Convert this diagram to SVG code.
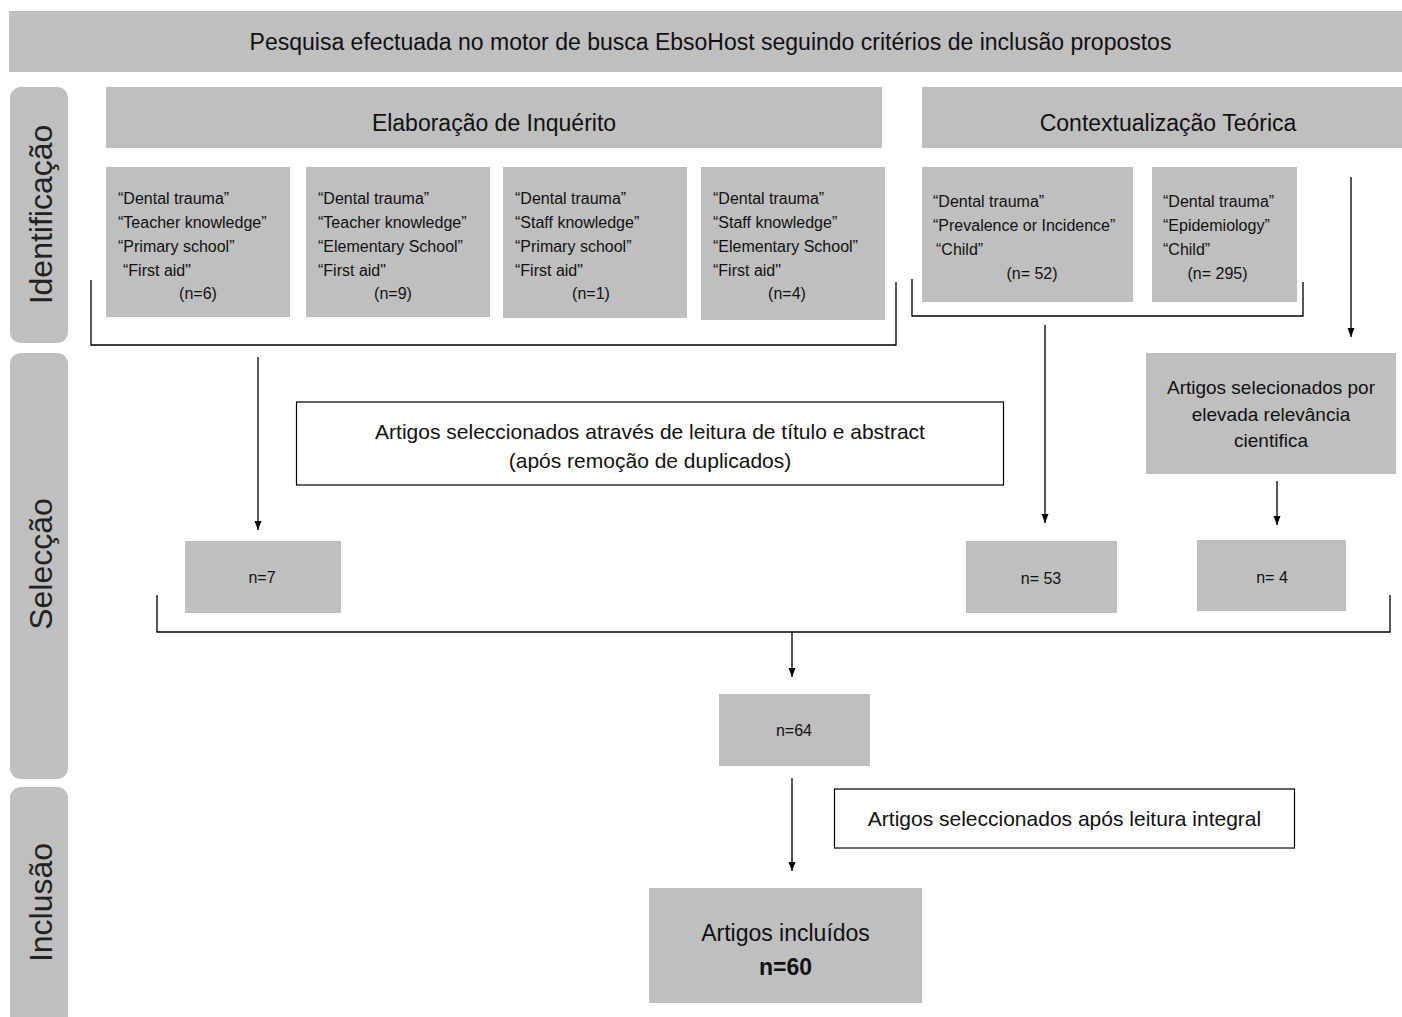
<svg xmlns="http://www.w3.org/2000/svg" width="1402" height="1017" viewBox="0 0 1402 1017">
<defs>
<style>
.box{fill:#bfbfbf;}
.wbox{fill:#ffffff;stroke:#000;stroke-width:1.2;}
.side{fill:#bfbfbf;}
.t{font-family:"Liberation Sans",Arial,sans-serif;fill:#111;}
.big{font-size:23px;}
.mid{font-size:21px;}
.sm{font-size:16px;}
.lbl{font-family:"Liberation Sans",Arial,sans-serif;font-size:32px;fill:#222;}
.ln{fill:none;stroke:#000;stroke-width:1.3;}
</style>
<marker id="ah" markerUnits="userSpaceOnUse" markerWidth="10" markerHeight="8" refX="9" refY="3.5" orient="auto">
<path d="M0,0 L9,3.5 L0,7 z" fill="#000"/>
</marker>
</defs>
<rect width="1402" height="1017" fill="#fff"/>

<g id="sidebars">
<rect class="side" x="10" y="87" width="58" height="256" rx="11"/>
<rect class="side" x="10" y="353" width="58" height="426" rx="11"/>
<rect class="side" x="10" y="787" width="58" height="250" rx="11"/>
<text class="lbl" transform="translate(52,214.5) rotate(-90)" text-anchor="middle">Identificação</text>
<text class="lbl" transform="translate(52,564) rotate(-90)" text-anchor="middle">Selecção</text>
<text class="lbl" transform="translate(52,902.5) rotate(-90)" text-anchor="middle">Inclusão</text>
</g>

<g id="title">
<rect class="box" x="9" y="11" width="1393" height="61"/>
<text class="t big" x="710.5" y="49.5" text-anchor="middle">Pesquisa efectuada no motor de busca EbsoHost seguindo critérios de inclusão propostos</text>
</g>

<g id="elaboracao">
<rect class="box" x="106" y="87" width="776" height="61"/>
<text class="t big" x="494" y="131" text-anchor="middle">Elaboração de Inquérito</text>
</g>

<g id="contextualizacao">
<rect class="box" x="922" y="87" width="480" height="61"/>
<text class="t big" x="1168" y="131" text-anchor="middle">Contextualização Teórica</text>
</g>

<g id="q1">
<rect class="box" x="106" y="167" width="184" height="150"/>
<text class="t sm"><tspan x="118" y="204">“Dental trauma”</tspan><tspan x="118" y="228">“Teacher knowledge”</tspan><tspan x="118" y="252">“Primary school”</tspan><tspan x="123" y="275.5">“First aid"</tspan><tspan x="198" y="299" text-anchor="middle">(n=6)</tspan></text>
</g>
<g id="q2">
<rect class="box" x="306" y="167" width="184" height="150"/>
<text class="t sm"><tspan x="318" y="204">“Dental trauma”</tspan><tspan x="318" y="228">“Teacher knowledge”</tspan><tspan x="318" y="252">“Elementary School”</tspan><tspan x="318" y="275.5">“First aid"</tspan><tspan x="393" y="299" text-anchor="middle">(n=9)</tspan></text>
</g>
<g id="q3">
<rect class="box" x="503" y="167" width="184" height="151"/>
<text class="t sm"><tspan x="515" y="204">“Dental trauma”</tspan><tspan x="515" y="228">“Staff knowledge”</tspan><tspan x="515" y="252">“Primary school”</tspan><tspan x="515" y="275.5">“First aid"</tspan><tspan x="591" y="299" text-anchor="middle">(n=1)</tspan></text>
</g>
<g id="q4">
<rect class="box" x="701" y="167" width="184" height="153"/>
<text class="t sm"><tspan x="713" y="204">“Dental trauma”</tspan><tspan x="713" y="228">“Staff knowledge”</tspan><tspan x="713" y="252">“Elementary School”</tspan><tspan x="713" y="275.5">“First aid"</tspan><tspan x="787" y="299" text-anchor="middle">(n=4)</tspan></text>
</g>
<g id="q5">
<rect class="box" x="922" y="167" width="211" height="135"/>
<text class="t sm"><tspan x="933" y="207">“Dental trauma”</tspan><tspan x="933" y="231">“Prevalence or Incidence”</tspan><tspan x="936" y="255">“Child”</tspan><tspan x="1032" y="279" text-anchor="middle">(n= 52)</tspan></text>
</g>
<g id="q6">
<rect class="box" x="1152" y="167" width="145" height="135"/>
<text class="t sm"><tspan x="1163" y="207">“Dental trauma”</tspan><tspan x="1163" y="231">“Epidemiology”</tspan><tspan x="1163" y="255">“Child”</tspan><tspan x="1217.5" y="279" text-anchor="middle">(n= 295)</tspan></text>
</g>

<g id="titulo-abstract">
<rect class="wbox" x="296.5" y="402" width="707" height="83"/>
<text class="t mid" text-anchor="middle"><tspan x="650" y="439">Artigos seleccionados através de leitura de título e abstract</tspan><tspan x="650" y="468">(após remoção de duplicados)</tspan></text>
</g>

<g id="relevancia">
<rect class="box" x="1146" y="353" width="250" height="121"/>
<text class="t" font-size="19" text-anchor="middle"><tspan x="1271" y="394">Artigos selecionados por</tspan><tspan x="1271" y="420.5">elevada relevância</tspan><tspan x="1271" y="447">cientifica</tspan></text>
</g>

<g id="n7">
<rect class="box" x="185" y="541" width="156" height="72"/>
<text class="t sm" x="262" y="583" text-anchor="middle">n=7</text>
</g>
<g id="n53">
<rect class="box" x="966" y="541" width="151" height="72"/>
<text class="t sm" x="1041" y="584" text-anchor="middle">n= 53</text>
</g>
<g id="n4">
<rect class="box" x="1197" y="540" width="149" height="71"/>
<text class="t sm" x="1272" y="583" text-anchor="middle">n= 4</text>
</g>
<g id="n64">
<rect class="box" x="719" y="694" width="151" height="72"/>
<text class="t sm" x="794" y="736" text-anchor="middle">n=64</text>
</g>

<g id="leitura-integral">
<rect class="wbox" x="834.5" y="789" width="460" height="59"/>
<text class="t mid" x="1064.5" y="826" text-anchor="middle">Artigos seleccionados após leitura integral</text>
</g>

<g id="incluidos">
<rect class="box" x="649" y="888" width="273" height="115"/>
<text class="t big" text-anchor="middle"><tspan x="785.5" y="941">Artigos incluídos</tspan><tspan x="785.5" y="975" font-weight="bold">n=60</tspan></text>
</g>

<g id="connectors">
<polyline class="ln" points="91,280 91,345 896,345 896,282"/>
<polyline class="ln" points="912,279 912,316 1303,316 1303,282"/>
<polyline class="ln" points="157,595 157,632 1390,632 1390,595"/>
<line class="ln" x1="258" y1="357" x2="258" y2="530" marker-end="url(#ah)"/>
<line class="ln" x1="1045" y1="325" x2="1045" y2="523" marker-end="url(#ah)"/>
<line class="ln" x1="1351" y1="177" x2="1351" y2="337" marker-end="url(#ah)"/>
<line class="ln" x1="1277" y1="481" x2="1277" y2="525" marker-end="url(#ah)"/>
<line class="ln" x1="792" y1="632" x2="792" y2="677" marker-end="url(#ah)"/>
<line class="ln" x1="792" y1="778" x2="792" y2="871" marker-end="url(#ah)"/>
</g>
</svg>
